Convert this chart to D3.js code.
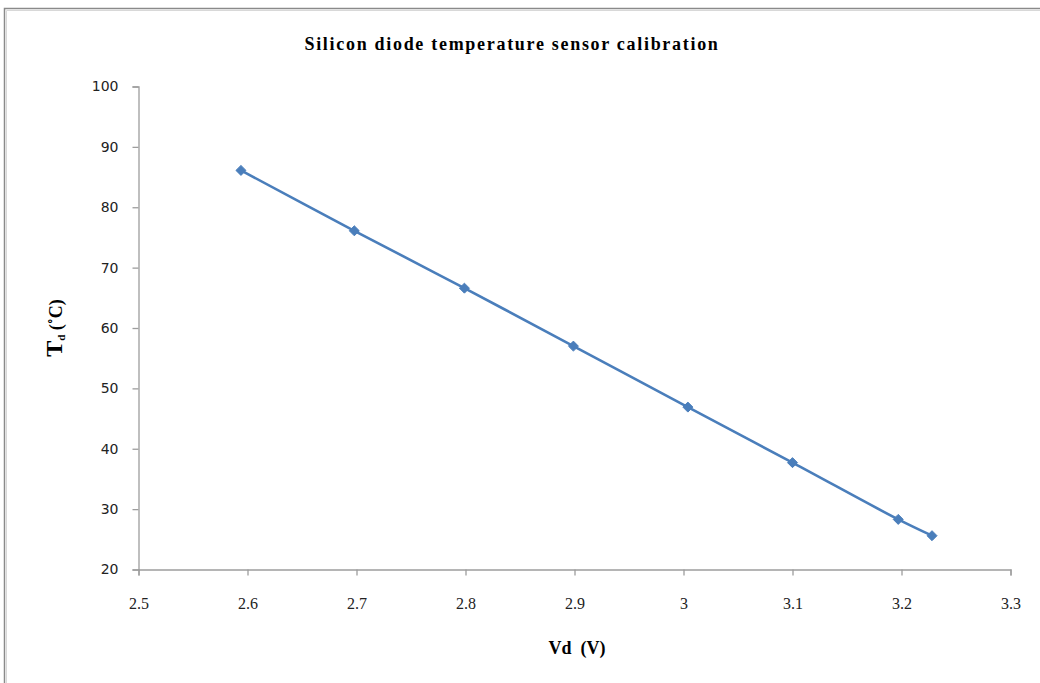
<!DOCTYPE html>
<html>
<head>
<meta charset="utf-8">
<script src="https://cdn.jsdelivr.net/npm/d3@7"></script>
<style>
  html, body { margin: 0; padding: 0; background: #fff; }
  svg { display: block; }
</style>
</head>
<body>
<svg id="chart" width="1040" height="683"></svg>
<script>
// Calibration readings: diode forward voltage (V) vs. temperature (°C)
const voltage = [2.594, 2.698, 2.799, 2.899, 3.004, 3.1, 3.197, 3.228];
const temperature = [86.1, 76.1, 66.6, 57.0, 46.9, 37.7, 28.3, 25.6];
const xTicks = [2.5, 2.6, 2.7, 2.8, 2.9, 3.0, 3.1, 3.2, 3.3];
const yTicks = [20, 30, 40, 50, 60, 70, 80, 90, 100];

const svg = d3.select("#chart");
const W = 1040, H = 683;

// chart frame
svg.append("rect").attr("x", 0).attr("y", 0).attr("width", W).attr("height", H).attr("fill", "#fff");
svg.append("path")
  .attr("d", `M4.5,${H + 2} L4.5,8.5 L${W + 2},8.5`)
  .attr("fill", "none").attr("stroke", "#8a8a8a").attr("stroke-width", 1.5);
svg.append("path")
  .attr("d", `M6.5,${H + 2} L6.5,10.5 L${W + 2},10.5`)
  .attr("fill", "none").attr("stroke", "#d8d8d8").attr("stroke-width", 1);

const x = d3.scaleLinear().domain([2.5, 3.3]).range([138.5, 1010.5]);
const y = d3.scaleLinear().domain([20, 100]).range([569.5, 86.5]);

// x axis
const xAxis = svg.append("g")
  .attr("transform", `translate(0,${y(20)})`)
  .call(d3.axisBottom(x).tickValues(xTicks).tickSize(6).tickPadding(22)
    .tickFormat(d => d3.format("")(+d.toFixed(1))));
xAxis.select(".domain").attr("stroke", "#9d9d9d").attr("stroke-width", 1.3);
xAxis.selectAll(".tick line").attr("stroke", "#9d9d9d").attr("stroke-width", 1.3);
xAxis.selectAll(".tick text")
  .attr("fill", "#222")
  .style("font-family", "'Liberation Serif', 'Times New Roman', serif")
  .style("font-size", "16px");

// y axis
const yAxis = svg.append("g")
  .attr("transform", `translate(${x(2.5)},0)`)
  .call(d3.axisLeft(y).tickValues(yTicks).tickSize(6).tickPadding(14));
yAxis.select(".domain").attr("stroke", "#9d9d9d").attr("stroke-width", 1.3);
yAxis.selectAll(".tick line").attr("stroke", "#9d9d9d").attr("stroke-width", 1.3);
yAxis.selectAll(".tick text")
  .attr("fill", "#222")
  .style("font-family", "'DejaVu Sans', Verdana, sans-serif")
  .style("font-size", "14px");

// data series: smoothed line with diamond markers
const pts = voltage.map((v, i) => [v, temperature[i]]);
const line = d3.line()
  .x(d => x(d[0])).y(d => y(d[1]))
  .curve(d3.curveCatmullRom.alpha(0.5));
svg.append("path")
  .datum(pts)
  .attr("d", line)
  .attr("fill", "none")
  .attr("stroke", "#4a7ebb")
  .attr("stroke-width", 2.6)
  .attr("stroke-linejoin", "round")
  .attr("stroke-linecap", "round");

svg.append("g").selectAll("path")
  .data(pts)
  .join("path")
  .attr("transform", d => `translate(${x(d[0])},${y(d[1])})`)
  .attr("d", d3.symbol(d3.symbolDiamond2, 64)())
  .attr("fill", "#4a7ebb")
  .attr("stroke", "#4a7ebb")
  .attr("stroke-width", 1);

// title
svg.append("text")
  .attr("x", 512).attr("y", 50)
  .attr("text-anchor", "middle")
  .style("font-family", "'Liberation Serif', 'Times New Roman', serif")
  .style("font-weight", "bold")
  .style("font-size", "18px")
  .style("letter-spacing", "1.7px")
  .attr("fill", "#000")
  .text("Silicon diode temperature sensor calibration");

// x axis title
svg.append("text")
  .attr("x", 577).attr("y", 654)
  .attr("text-anchor", "middle")
  .style("font-family", "'Liberation Serif', 'Times New Roman', serif")
  .style("font-weight", "bold")
  .style("font-size", "18px")
  .attr("fill", "#000")
  .attr("xml:space", "preserve")
  .text("Vd  (V)");

// y axis title
const yt = svg.append("text")
  .attr("transform", "translate(62,328) rotate(-90)")
  .attr("text-anchor", "middle")
  .style("font-family", "'Liberation Serif', 'Times New Roman', serif")
  .style("font-weight", "bold")
  .attr("fill", "#000");
yt.append("tspan").style("font-size", "24px").text("T");
yt.append("tspan").style("font-size", "11px").attr("dy", 3).text("d");
yt.append("tspan").style("font-size", "18px").attr("dy", -3).text(" (\u02DAC)");
</script>
</body>
</html>
